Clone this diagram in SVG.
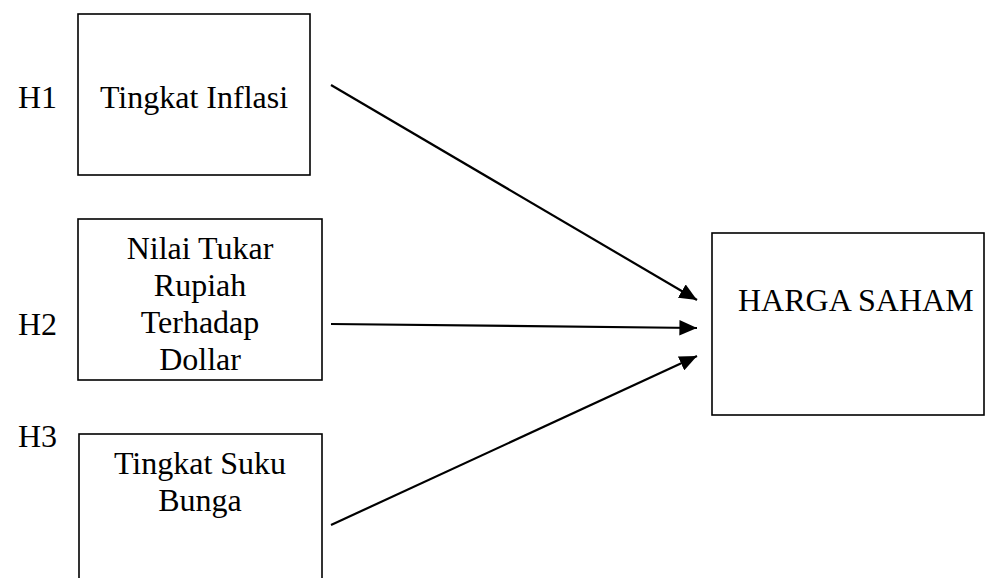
<svg xmlns="http://www.w3.org/2000/svg" width="987" height="578" viewBox="0 0 987 578">
<style>
.box{fill:#fff;stroke:#000;stroke-width:1.6}
text{font-family:"Liberation Serif","Times New Roman",serif;font-size:32px;fill:#000}
.c{text-anchor:middle}
.edge{stroke:#000;stroke-width:2.2;fill:none}
</style>
<defs>
<marker id="ah" markerWidth="8" markerHeight="7" refX="8" refY="3.5" orient="auto" markerUnits="strokeWidth">
<path d="M0,0 L8,3.5 L0,7 Z" fill="#000"/>
</marker>
</defs>
<rect width="987" height="578" fill="#fff"/>
<g id="labels">
<text x="18" y="108">H1</text>
<text x="18" y="335">H2</text>
<text x="18" y="447">H3</text>
</g>
<g id="n1">
<rect class="box" x="78" y="14" width="232" height="161"/>
<text class="c" x="194" y="108">Tingkat Inflasi</text>
</g>
<g id="n2">
<rect class="box" x="78" y="219" width="244" height="161"/>
<text class="c" x="200" y="259">Nilai Tukar</text>
<text class="c" x="200" y="296">Rupiah</text>
<text class="c" x="200" y="333">Terhadap</text>
<text class="c" x="200" y="370">Dollar</text>
</g>
<g id="n3">
<rect class="box" x="79" y="434" width="243" height="170"/>
<text class="c" x="200" y="474">Tingkat Suku</text>
<text class="c" x="200" y="511">Bunga</text>
</g>
<g id="n4">
<rect class="box" x="712" y="233" width="272" height="182"/>
<text x="738" y="311">HARGA SAHAM</text>
</g>
<g id="connectors">
<line class="edge" x1="331" y1="85" x2="697" y2="300" marker-end="url(#ah)"/>
<line class="edge" x1="331" y1="324" x2="697" y2="328" marker-end="url(#ah)"/>
<line class="edge" x1="331" y1="525" x2="697" y2="356" marker-end="url(#ah)"/>
</g>
</svg>
